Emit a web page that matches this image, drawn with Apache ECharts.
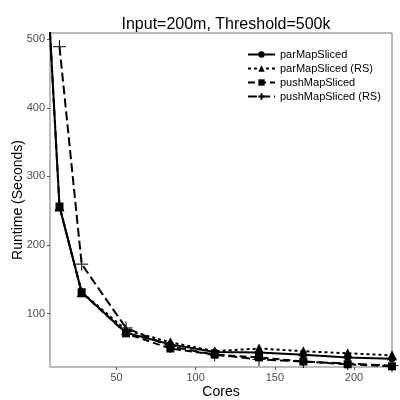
<!DOCTYPE html>
<html>
<head>
<meta charset="utf-8">
<script src="https://cdn.jsdelivr.net/npm/echarts@6/dist/echarts.min.js"></script>
<style>
  html, body { margin: 0; padding: 0; background: #fff; }
  #main { width: 400px; height: 400px; }
</style>
</head>
<body>
<div id="main"></div>
<script>
// data
const parMapSliced     = [[8, 510], [14, 256], [28, 131], [56, 72], [84, 55], [112, 44], [140, 43], [168, 40], [196, 36], [224, 34]];
const parMapSlicedRS   = [[14, 256], [28, 131], [56, 76], [84, 58], [112, 45], [140, 49], [168, 45], [196, 42], [224, 39]];
const pushMapSliced    = [[8, 510], [14, 256], [28, 131], [56, 71], [84, 49], [112, 40], [140, 36], [168, 30], [196, 26], [224, 23]];
const pushMapSlicedRS  = [[14, 489], [28, 172], [56, 79], [84, 52], [112, 40], [140, 33], [168, 30], [196, 27], [224, 24]];
const xTicks = [50, 100, 150, 200];
const yTicks = [100, 200, 300, 400, 500];

const font = 'Liberation Sans, Arial, sans-serif';
const plus = 'path://M0,-1L0,1M-1,0L1,0';

function line (name, data, symbol, size, dash) {
  return {
    name: name,
    type: 'line',
    data: data,
    symbol: symbol,
    symbolSize: size,
    showAllSymbol: true,
    lineStyle: {color: '#000', width: 2, type: dash},
    itemStyle: {color: '#000', borderColor: '#000', borderWidth: symbol === plus ? 1 : 0}
  }
}

let option = {
  backgroundColor: '#fff',
  animation: false,
  title: {
    text: 'Input=200m, Threshold=500k',
    left: 221,
    textAlign: 'center',
    top: 12,
    textStyle: {fontFamily: font, fontSize: 16, fontWeight: 'normal', color: '#000'}
  },
  legend: {
    orient: 'vertical',
    left: 247,
    top: 49,
    padding: 0,
    itemWidth: 27,
    itemHeight: 8,
    itemGap: 3,
    textStyle: {fontFamily: font, fontSize: 11, color: '#000'},
    data: ['parMapSliced', 'parMapSliced (RS)', 'pushMapSliced', 'pushMapSliced (RS)']
  },
  grid: {
    left: 50, top: 33, right: 8, bottom: 33,
    outerBoundsMode: 'none',
    containLabel: false,
    show: true, borderColor: '#777', borderWidth: 1, backgroundColor: '#fff'
  },
  xAxis: {
    type: 'value',
    min: 8,
    max: 224,
    name: 'Cores',
    nameLocation: 'center',
    nameGap: 18,
    nameMoveOverlap: false,
    nameTextStyle: {fontFamily: font, fontSize: 14, color: '#000'},
    axisLine: {show: false},
    splitLine: {show: false},
    axisTick: {show: true, length: 3, lineStyle: {color: '#555'}, customValues: xTicks},
    axisLabel: {fontFamily: font, fontSize: 11, color: '#4d4d4d', margin: 5, customValues: xTicks}
  },
  yAxis: {
    type: 'value',
    min: 22,
    max: 509,
    name: 'Runtime (Seconds)',
    nameLocation: 'center',
    nameGap: 25,
    nameMoveOverlap: false,
    nameTextStyle: {fontFamily: font, fontSize: 14, color: '#000'},
    axisLine: {show: false},
    splitLine: {show: false},
    axisTick: {show: true, length: 3, lineStyle: {color: '#555'}, customValues: yTicks},
    axisLabel: {fontFamily: font, fontSize: 11, color: '#4d4d4d', margin: 5, customValues: yTicks}
  },
  series: [
    line('parMapSliced', parMapSliced, 'circle', 7, 'solid'),
    line('parMapSliced (RS)', parMapSlicedRS, 'triangle', 10, [3, 3]),
    line('pushMapSliced', pushMapSliced, 'rect', 8, [7, 4]),
    line('pushMapSliced (RS)', pushMapSlicedRS, plus, 13, [9, 4])
  ]
}

let chart = echarts.init(document.getElementById('main'))
chart.setOption(option)
</script>
</body>
</html>
